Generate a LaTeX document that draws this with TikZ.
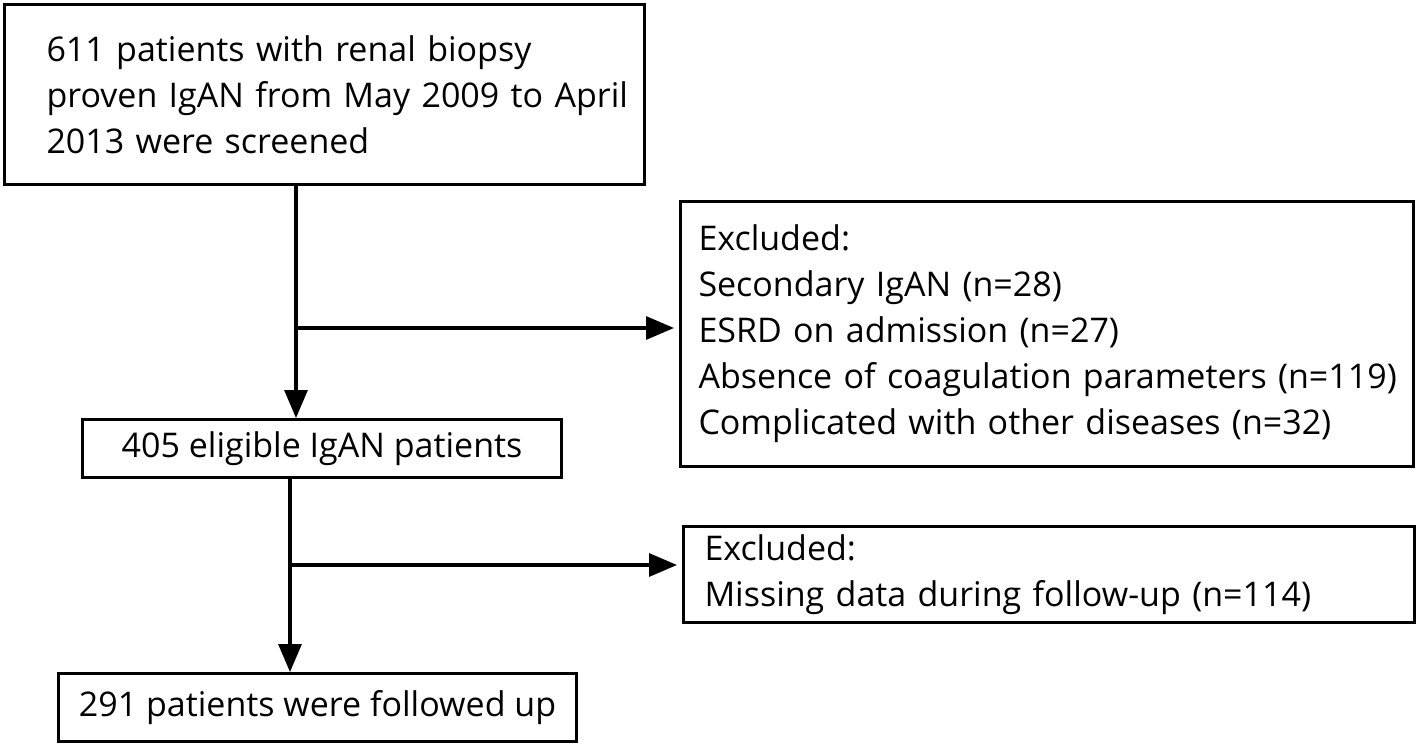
\documentclass[tikz,border=0pt]{standalone}
\usepackage{fontspec}
\setmainfont{Open Sans}
\usetikzlibrary{arrows.meta}

\begin{document}
\begin{tikzpicture}[x=0.5pt, y=-0.5pt,
        box/.style={draw, line width=1.5pt, anchor=north west, inner sep=0pt,
            font=\fontsize{17}{23}\selectfont},
        pad/.style={align=left, execute at begin node={\leftskip=#1}},
        flow/.style={line width=1.6pt, -{Triangle[length=14pt, width=11.5pt]}}]
        \useasboundingbox (0,0) rectangle (1418,745);

        \node[box, pad=21pt, text width=320pt, minimum height=90pt] (screen) at (3,3)
            {611 patients with renal biopsy\\proven IgAN from May 2009 to April\\2013 were screened};
        \node[box, minimum width=239.5pt, minimum height=29pt] (elig) at (81,418)
            {405 eligible IgAN patients};
        \node[box, minimum width=259pt, minimum height=34pt] (follow) at (57,672)
            {291 patients were followed up};
        \node[box, pad=9pt, text width=366.5pt, minimum height=132.5pt] (excl1) at (679,200)
            {Excluded:\\Secondary IgAN (n=28)\\ESRD on admission (n=27)\\Absence of coagulation parameters (n=119)\\Complicated with other diseases (n=32)};
        \node[box, pad=10.5pt, text width=365.5pt, minimum height=48pt] (excl2) at (682,525)
            {Excluded:\\Missing data during follow-up (n=114)};

        \coordinate (v1) at (296,328);
        \coordinate (v2) at (290,565);

        \draw[flow] (screen.south -| v1) -- (elig.north -| v1);
        \draw[flow, shorten >=2.5pt] (v1) -- (v1 -| excl1.west);
        \draw[flow] (elig.south -| v2) -- (follow.north -| v2);
        \draw[flow, shorten >=2.5pt] (v2) -- (v2 -| excl2.west);
\end{tikzpicture}
\end{document}
